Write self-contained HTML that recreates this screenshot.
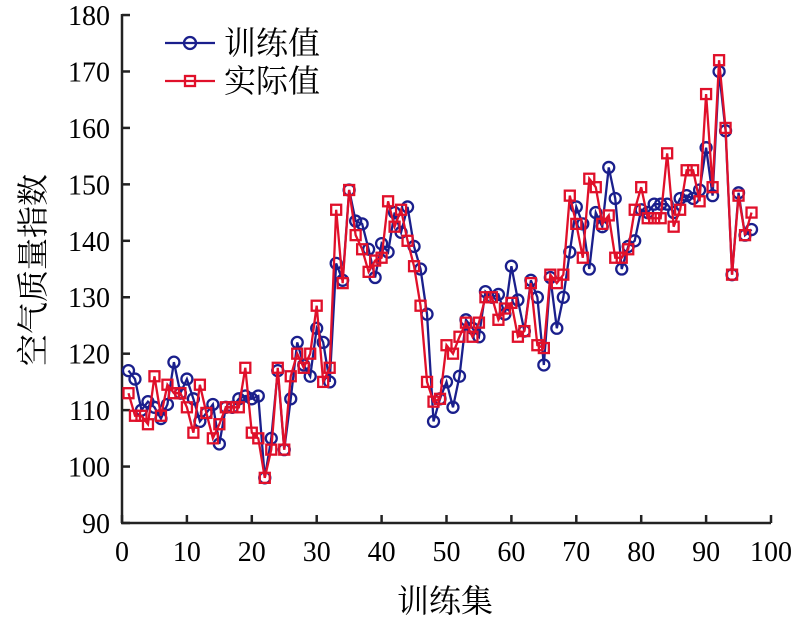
<!DOCTYPE html>
<html><head><meta charset="utf-8"><style>body{margin:0;background:#fff}</style></head>
<body>
<svg id="s" width="796" height="621" xmlns="http://www.w3.org/2000/svg" font-family="Liberation Serif, Noto Serif CJK SC, serif">
</svg>
<script>
const B=[117,115.5,110,111.5,110.5,108.5,111,118.5,113,115.5,112,108,109.5,111,104,110.5,110.5,112,112.5,112,112.5,98,105,117,103,112,122,118,116,124.5,122,115,136,133,149,143.5,143,138.5,133.5,139.5,138,145,141.5,146,139,135,127,108,112,115,110.5,116,126,124.5,123,131,130,130.5,127,135.5,129.5,124,133,130,118,133.5,124.5,130,138,146,143,135,145,142.5,153,147.5,135,139,140,145.5,145,146.5,146.5,146.5,145,147.5,148,147.5,149,156.5,148,170,159.5,134,148.5,141,142];
const R=[113,109,109,107.5,116,109,114.5,113,113,110.5,106,114.5,109.5,105,107.5,110.5,110.5,110.5,117.5,106,105,98,103,117.5,103,116,120,117.5,120,128.5,115,117.5,145.5,132.5,149,141,138.5,134.5,136.5,137,147,142.5,145.5,140,135.5,128.5,115,111.5,112,121.5,120,123,125.5,123,125.5,130,130,126,128,129,123,124,132.5,121.5,121,134,132.5,134,148,143,137,151,149.5,143,144.5,137,137,138.5,145.5,149.5,144,144,144,155.5,142.5,145.5,152.5,152.5,147,166,149.5,172,160,134,148,141,145];
const X=i=>122+6.49*i, Y=v=>523-(v-90)*5.644;
let h='';
const ax='#222';
h+=`<line x1="122" y1="14" x2="122" y2="523" stroke="${ax}" stroke-width="2.5"/><line x1="121" y1="523" x2="771" y2="523" stroke="${ax}" stroke-width="2.5"/>`;
for(let v=90;v<=180;v+=10){const y=Y(v);h+=`<line x1="122" y1="${y}" x2="130" y2="${y}" stroke="${ax}" stroke-width="2.5"/><text x="110" y="${y+10}" font-size="28" text-anchor="end">${v}</text>`;}
for(let x=0;x<=100;x+=10){const px=X(x);h+=`<line x1="${px}" y1="523" x2="${px}" y2="515" stroke="${ax}" stroke-width="2.5"/><text x="${px}" y="561" font-size="28" text-anchor="middle">${x}</text>`;}
h+=`<text x="445" y="612" font-size="32" text-anchor="middle" font-family="Noto Serif CJK SC, serif">训练集</text>`;
h+=`<text transform="translate(44,270) rotate(-90)" font-size="32" text-anchor="middle" font-family="Noto Serif CJK SC, serif">空气质量指数</text>`;
const pb=B.map((v,i)=>X(i+1)+','+Y(v)).join(' '), pr=R.map((v,i)=>X(i+1)+','+Y(v)).join(' ');
h+=`<polyline points="${pb}" fill="none" stroke="#1a1f8c" stroke-width="2.3"/>`;
B.forEach((v,i)=>h+=`<circle cx="${X(i+1)}" cy="${Y(v)}" r="5.5" fill="none" stroke="#1a1f8c" stroke-width="2.3"/>`);
h+=`<polyline points="${pr}" fill="none" stroke="#e0102a" stroke-width="2.3"/>`;
R.forEach((v,i)=>h+=`<rect x="${X(i+1)-5}" y="${Y(v)-5}" width="10" height="10" fill="none" stroke="#e0102a" stroke-width="2.3"/>`);
h+=`<line x1="165" y1="43" x2="215" y2="43" stroke="#1a1f8c" stroke-width="2.3"/><circle cx="190" cy="43" r="6" fill="none" stroke="#1a1f8c" stroke-width="2.3"/><text x="224" y="54" font-size="32" font-family="Noto Serif CJK SC, serif">训练值</text>`;
h+=`<line x1="165" y1="81" x2="215" y2="81" stroke="#e0102a" stroke-width="2.3"/><rect x="185" y="76" width="10" height="10" fill="none" stroke="#e0102a" stroke-width="2.3"/><text x="224" y="92" font-size="32" font-family="Noto Serif CJK SC, serif">实际值</text>`;
document.getElementById('s').innerHTML=h;
</script>
</body></html>
